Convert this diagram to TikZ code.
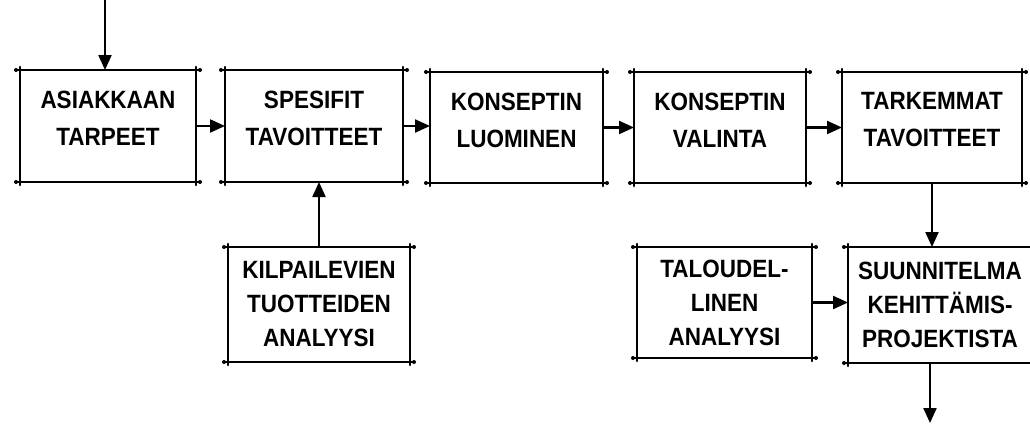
\documentclass[tikz,border=0pt]{standalone}
\usepackage{fontspec}
\setmainfont[FakeStretch=0.9]{Liberation Sans}
\usetikzlibrary{arrows.meta,calc}
\begin{document}
\begin{tikzpicture}[x=1pt,y=-1pt,
  bx/.style={draw=none,inner sep=0pt,outer sep=0pt},
  txt/.style={align=center,inner sep=0pt,font=\fontsize{25}{37}\selectfont\bfseries},
  txtb/.style={align=center,inner sep=0pt,font=\fontsize{25}{34}\selectfont\bfseries},
  edge/.style={line width=2.6pt,line cap=round},
  arr/.style={line width=2.2pt,-{Triangle[length=15pt,width=13pt]}},
  dot/.style={fill=black}]
\fill[white] (0,0) rectangle (1030,423);
\useasboundingbox (0,0) rectangle (1030,423);
% boxes
\node[bx,minimum width=176pt,minimum height=112pt] (A) at (108,126) {};
\node[bx,minimum width=178pt,minimum height=112pt] (B) at (314,126) {};
\node[bx,minimum width=173pt,minimum height=111pt] (C) at (516.5,127.5) {};
\node[bx,minimum width=172pt,minimum height=111pt] (D) at (720,127.5) {};
\node[bx,minimum width=180pt,minimum height=111pt] (E) at (932,127.5) {};
\node[bx,minimum width=182pt,minimum height=115pt] (F) at (319,304.5) {};
\node[bx,minimum width=175pt,minimum height=111pt] (G) at (724.5,302.5) {};
\node[bx,minimum width=184pt,minimum height=116pt] (H) at (940,305) {};
\foreach \n in {A,B,C,D,E,F,G,H}{
  \draw[edge] ([xshift=-4pt]\n.north west) -- ([xshift=4pt]\n.north east);
  \draw[edge] ([xshift=-4pt]\n.south west) -- ([xshift=4pt]\n.south east);
  \draw[edge] ([yshift=3pt]\n.north west) -- ([yshift=-3pt]\n.south west);
  \draw[edge] ([yshift=3pt]\n.north east) -- ([yshift=-3pt]\n.south east);
  \fill[dot] ([xshift=-4pt]\n.north west) circle (2pt);
  \fill[dot] ([xshift=4pt]\n.north east) circle (2pt);
  \fill[dot] ([xshift=-4pt]\n.south west) circle (2pt);
  \fill[dot] ([xshift=4pt]\n.south east) circle (2pt);
}
% texts
\node[txt] (At) at ([yshift=7.5pt]A.center) {ASIAKKAAN\\TARPEET};
\node[txt] (Bt) at ([yshift=7.5pt]B.center) {SPESIFIT\\TAVOITTEET};
\node[txt] (Ct) at ([yshift=7.5pt]C.center) {KONSEPTIN\\LUOMINEN};
\node[txt] (Dt) at ([yshift=7.5pt]D.center) {KONSEPTIN\\VALINTA};
\node[txt] (Et) at ([yshift=7.5pt]E.center) {TARKEMMAT\\TAVOITTEET};
\node[txtb] (Ft) at (F.center) {KILPAILEVIEN\\TUOTTEIDEN\\ANALYYSI};
\node[txtb] (Gt) at (G.center) {TALOUDEL-\\LINEN\\ANALYYSI};
\node[txtb] (Ht) at (H.center) {SUUNNITELMA\\KEHITTÄMIS-\\PROJEKTISTA};
% connectors
\coordinate (top) at (105,0);
\coordinate (bot) at (930,423);
\draw[arr] (top) -- (top |- A.north);
\draw[arr] (A.east) -- (B.west);
\draw[arr] (B.east) -- (B.east -| C.west);
\draw[arr] (C.east) -- (D.west);
\draw[arr] (D.east) -- (E.west);
\draw[arr] (F.north) -- (F.north |- B.south);
\draw[arr] (E.south) -- (E.south |- H.north);
\draw[arr] (G.east) -- (G.east -| H.west);
\draw[arr] (bot |- H.south) -- (bot);
\end{tikzpicture}
\end{document}
